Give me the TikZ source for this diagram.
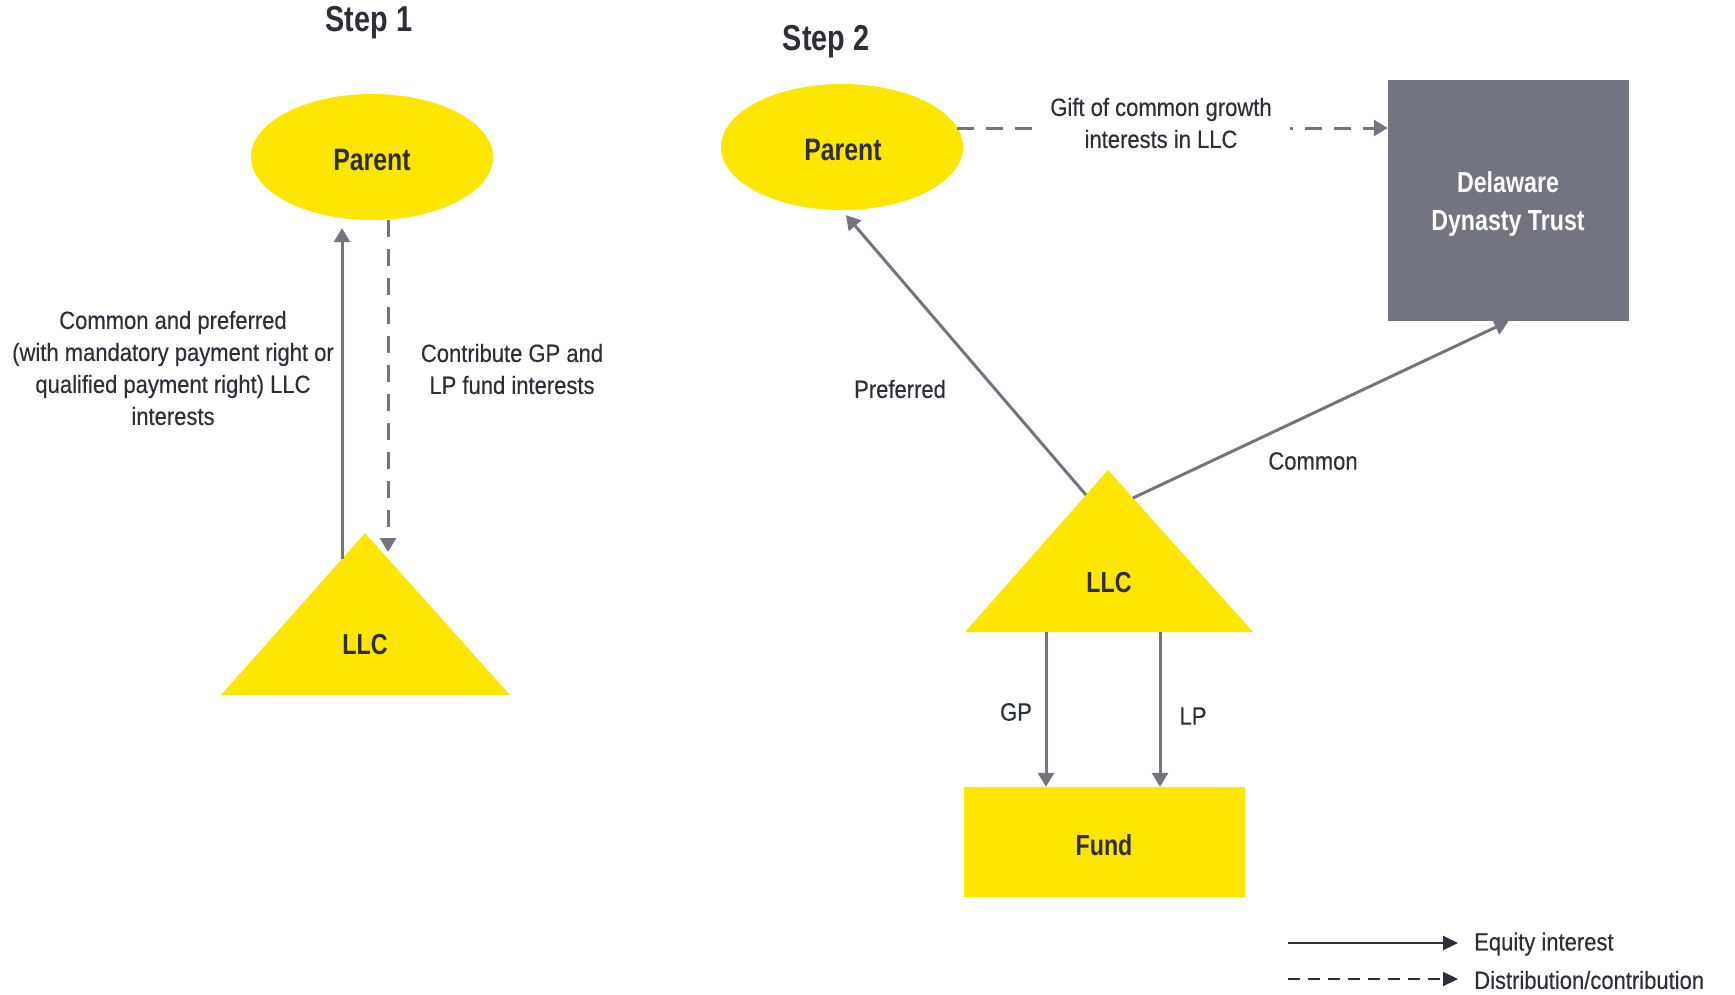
\documentclass[tikz,border=0pt]{standalone}
\usepackage{fontspec}
\setmainfont{Liberation Sans}[FakeStretch=0.88, FakeBold=0.3]
\newfontfamily\bfc{Liberation Sans}[FakeStretch=0.8]
\usetikzlibrary{arrows.meta,shapes.geometric,calc}
\definecolor{eyyellow}{HTML}{FFE600}
\definecolor{eygray}{HTML}{747480}
\definecolor{eytext}{HTML}{2E2E38}
\tikzset{
  lbl/.style={text=eytext, font=\fontsize{25}{32}\selectfont, align=center, inner sep=0pt},
  ttl/.style={text=eytext, font=\bfc\bfseries\fontsize{36}{40}\selectfont, inner sep=0pt},
  ent/.style={text=eytext, font=\bfc\bfseries\fontsize{29}{36}\selectfont, inner sep=0pt},
  oval/.style={ellipse, fill=eyyellow, minimum width=242pt, minimum height=126pt, inner sep=0pt},
  eq/.style={draw=eygray, line width=3pt, -{Triangle[length=14pt,width=16pt]}},
  dist/.style={draw=eygray, line width=3pt, dash pattern=on 17pt off 12pt, -{Triangle[length=14pt,width=16pt]}},
  legeq/.style={draw=eytext, line width=2pt, -{Triangle[length=15pt,width=14pt]}},
  legdist/.style={draw=eytext, line width=2pt, dash pattern=on 12pt off 8pt, -{Triangle[length=15pt,width=14pt]}}
}
\begin{document}
\begin{tikzpicture}[x=1pt,y=-1pt]
\useasboundingbox (0,0) rectangle (1735,994);
% ---------- Step 1 ----------
\node[ttl] (step1) at (369,23) {Step 1};
\node[oval] (parent1) at (372,157) {};
\node[ent, font=\bfc\bfseries\fontsize{31}{36}\selectfont] (parent1t) at (372,160) {Parent};
\fill[eyyellow] (365,533) -- (510,695) -- (221,695) -- cycle;
\node[ent] (llc1) at (365,645) {LLC};
\coordinate (l1a) at (342,559);
\coordinate (r1a) at (388,557);
\draw[eq, shorten >=8pt] (l1a) -- (l1a |- parent1.south);
\draw[dist, shorten >=5pt] (r1a |- parent1.south) -- (r1a);
\node[lbl] (lab1) at (173,368) {Common and preferred\\(with mandatory payment right or\\qualified payment right) LLC\\interests};
\node[lbl] (lab2) at (512,369) {Contribute GP and\\LP fund interests};
% ---------- Step 2 ----------
\node[ttl] (step2) at (826,42) {Step 2};
\node[oval] (parent2) at (842,147) {};
\node[ent, font=\bfc\bfseries\fontsize{31}{36}\selectfont] (parent2t) at (843,150) {Parent};
\node[fill=eygray, minimum width=241pt, minimum height=241pt, inner sep=0pt] (trust) at (1508.5,200.5) {};
\node[font=\bfc\bfseries\fontsize{29}{38}\selectfont, text=white, align=center, inner sep=0pt] (trustt) at (1508,204) {Delaware\\Dynasty Trust};
\fill[eyyellow] (1108,470) -- (1253,632) -- (965,632) -- cycle;
\node[ent] (llc2) at (1109,583) {LLC};
\node[fill=eyyellow, minimum width=281pt, minimum height=110pt, inner sep=0pt] (fund) at (1104.5,842) {};
\node[ent] (fundt) at (1104,845) {Fund};
\coordinate (gftA) at (957,128);
\draw[dist] (gftA) -- (gftA -| trust.west);
\node[lbl, fill=white, inner xsep=18pt, inner ysep=4pt] (gift) at (1161,123) {Gift of common growth\\interests in LLC};
\coordinate (prefA) at (1086,495);
\draw[eq] (prefA) -- ($(parent2.south)+(4,5)$);
\coordinate (comA) at (1133,498);
\draw[eq] (comA) -- (trust.south);
\node[lbl] (pref) at (900,389) {Preferred};
\node[lbl] (com) at (1313,461) {Common};
\coordinate (gpA) at (1046,632);
\coordinate (lpA) at (1160,632);
\draw[eq] (gpA) -- (gpA |- fund.north);
\draw[eq] (lpA) -- (lpA |- fund.north);
\node[lbl] (gp) at (1016,712) {GP};
\node[lbl] (lp) at (1193,716) {LP};
% ---------- Legend ----------
\coordinate (le1) at (1288,943);
\coordinate (le2) at (1458,943);
\coordinate (ld1) at (1288,979);
\coordinate (ld2) at (1458,979);
\draw[legeq] (le1) -- (le2);
\draw[legdist] (ld1) -- (ld2);
\node[lbl, anchor=west] (legeqt) at (1474,944) {Equity interest};
\node[lbl, anchor=west] (legdistt) at (1474,980) {Distribution/contribution};
\end{tikzpicture}
\end{document}
